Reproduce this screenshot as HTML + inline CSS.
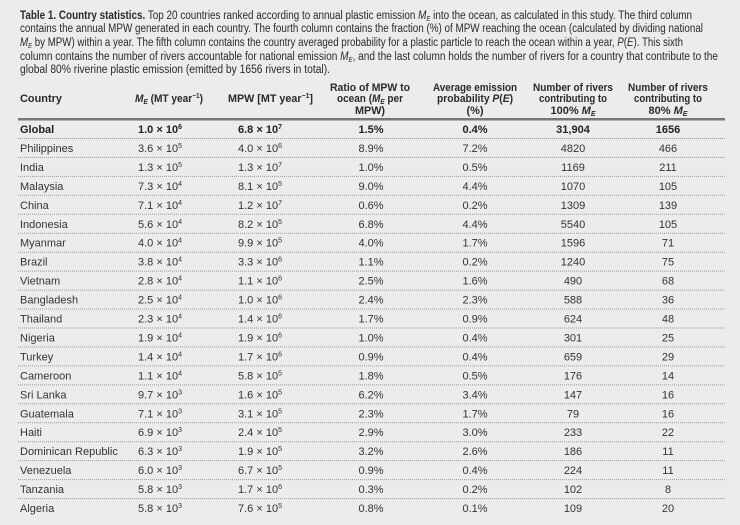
<!DOCTYPE html>
<html><head><meta charset="utf-8"><style>
html,body{margin:0;padding:0;background:#ececec;}
svg{display:block;}
text{font-family:"Liberation Sans Narrow","Liberation Sans",sans-serif;}
.cap{font-size:11.5px;fill:#2a2a2a;}
.h{font-size:11px;font-weight:bold;fill:#2a2a2a;}
.d{font-size:11px;fill:#333;}
.g{font-size:11px;font-weight:bold;fill:#222;}
</style></head><body>
<svg width="740" height="525" viewBox="0 0 740 525" xmlns="http://www.w3.org/2000/svg">
<rect width="740" height="525" fill="#ececec"/>
<text class="cap" x="20" y="19" textLength="672" lengthAdjust="spacingAndGlyphs"><tspan font-weight="bold">Table 1. Country statistics.</tspan> Top 20 countries ranked according to annual plastic emission <tspan font-style="italic">M<tspan font-size="7" dy="2">E</tspan></tspan><tspan dy="-2"> into the ocean, as calculated in this study. The third column</tspan></text>
<text class="cap" x="20" y="32" textLength="683" lengthAdjust="spacingAndGlyphs">contains the annual MPW generated in each country. The fourth column contains the fraction (%) of MPW reaching the ocean (calculated by dividing national</text>
<text class="cap" x="20" y="46" textLength="663" lengthAdjust="spacingAndGlyphs"><tspan font-style="italic">M<tspan font-size="7" dy="2">E</tspan></tspan><tspan dy="-2"> by MPW) within a year. The fifth column contains the country averaged probability for a plastic particle to reach the ocean within a year, </tspan><tspan font-style="italic">P</tspan>(<tspan font-style="italic">E</tspan>). This sixth</text>
<text class="cap" x="20" y="60" textLength="698" lengthAdjust="spacingAndGlyphs">column contains the number of rivers accountable for national emission <tspan font-style="italic">M<tspan font-size="7" dy="2">E</tspan></tspan><tspan dy="-2">, and the last column holds the number of rivers for a country that contribute to the</tspan></text>
<text class="cap" x="20" y="73" textLength="310" lengthAdjust="spacingAndGlyphs">global 80% riverine plastic emission (emitted by 1656 rivers in total).</text>

<g class="h">
<text x="20" y="102" textLength="42" lengthAdjust="spacingAndGlyphs">Country</text>
<text x="135" y="102" textLength="68" lengthAdjust="spacingAndGlyphs"><tspan font-style="italic">M<tspan font-size="7" dy="2">E</tspan></tspan><tspan dy="-2"> (MT year</tspan><tspan font-size="7" dy="-4">−1</tspan><tspan dy="4">)</tspan></text>
<text x="228" y="102" textLength="85" lengthAdjust="spacingAndGlyphs">MPW [MT year<tspan font-size="7" dy="-4">−1</tspan><tspan dy="4">]</tspan></text>
<text x="330" y="91" textLength="80" lengthAdjust="spacingAndGlyphs">Ratio of MPW to</text>
<text x="337" y="102" textLength="66" lengthAdjust="spacingAndGlyphs">ocean (<tspan font-style="italic">M<tspan font-size="7" dy="2">E</tspan></tspan><tspan dy="-2"> per</tspan></text>
<text x="370" y="114" text-anchor="middle" textLength="30" lengthAdjust="spacingAndGlyphs">MPW)</text>
<text x="433" y="91" textLength="84" lengthAdjust="spacingAndGlyphs">Average emission</text>
<text x="437" y="102" textLength="76" lengthAdjust="spacingAndGlyphs">probability <tspan font-style="italic">P</tspan>(<tspan font-style="italic">E</tspan>)</text>
<text x="475" y="114" text-anchor="middle">(%)</text>
<text x="533" y="91" textLength="80" lengthAdjust="spacingAndGlyphs">Number of rivers</text>
<text x="539" y="102" textLength="68" lengthAdjust="spacingAndGlyphs">contributing to</text>
<text x="573" y="114" text-anchor="middle">100% <tspan font-style="italic">M<tspan font-size="7" dy="2">E</tspan></tspan></text>
<text x="628" y="91" textLength="80" lengthAdjust="spacingAndGlyphs">Number of rivers</text>
<text x="634" y="102" textLength="68" lengthAdjust="spacingAndGlyphs">contributing to</text>
<text x="668" y="114" text-anchor="middle">80% <tspan font-style="italic">M<tspan font-size="7" dy="2">E</tspan></tspan></text>
</g>
<rect x="18" y="118" width="707" height="2.5" fill="#777"/>
<g id="rows"></g>
</svg>
<script>
var rows=[
["Global","1.0","6","6.8","7","1.5%","0.4%","31,904","1656"],
["Philippines","3.6","5","4.0","6","8.9%","7.2%","4820","466"],
["India","1.3","5","1.3","7","1.0%","0.5%","1169","211"],
["Malaysia","7.3","4","8.1","5","9.0%","4.4%","1070","105"],
["China","7.1","4","1.2","7","0.6%","0.2%","1309","139"],
["Indonesia","5.6","4","8.2","5","6.8%","4.4%","5540","105"],
["Myanmar","4.0","4","9.9","5","4.0%","1.7%","1596","71"],
["Brazil","3.8","4","3.3","6","1.1%","0.2%","1240","75"],
["Vietnam","2.8","4","1.1","6","2.5%","1.6%","490","68"],
["Bangladesh","2.5","4","1.0","6","2.4%","2.3%","588","36"],
["Thailand","2.3","4","1.4","6","1.7%","0.9%","624","48"],
["Nigeria","1.9","4","1.9","6","1.0%","0.4%","301","25"],
["Turkey","1.4","4","1.7","6","0.9%","0.4%","659","29"],
["Cameroon","1.1","4","5.8","5","1.8%","0.5%","176","14"],
["Sri Lanka","9.7","3","1.6","5","6.2%","3.4%","147","16"],
["Guatemala","7.1","3","3.1","5","2.3%","1.7%","79","16"],
["Haiti","6.9","3","2.4","5","2.9%","3.0%","233","22"],
["Dominican Republic","6.3","3","1.9","5","3.2%","2.6%","186","11"],
["Venezuela","6.0","3","6.7","5","0.9%","0.4%","224","11"],
["Tanzania","5.8","3","1.7","6","0.3%","0.2%","102","8"],
["Algeria","5.8","3","7.6","5","0.8%","0.1%","109","20"]];
var g=document.getElementById("rows"),h="";
rows.forEach(function(r,i){
 var c=129+i*18.95,y=(c+4).toFixed(1),cl=i==0?"g":"d";
 h+='<text class="'+cl+'" x="20" y="'+y+'">'+r[0]+'</text>';
 h+='<text class="'+cl+'" x="138" y="'+y+'">'+r[1]+' × 10<tspan font-size="7" dy="-4">'+r[2]+'</tspan></text>';
 h+='<text class="'+cl+'" x="238" y="'+y+'">'+r[3]+' × 10<tspan font-size="7" dy="-4">'+r[4]+'</tspan></text>';
 h+='<text class="'+cl+'" x="371" y="'+y+'" text-anchor="middle">'+r[5]+'</text>';
 h+='<text class="'+cl+'" x="475" y="'+y+'" text-anchor="middle">'+r[6]+'</text>';
 h+='<text class="'+cl+'" x="573" y="'+y+'" text-anchor="middle">'+r[7]+'</text>';
 h+='<text class="'+cl+'" x="668" y="'+y+'" text-anchor="middle">'+r[8]+'</text>';
 if(i<20){var ly=(c+9.5).toFixed(1);h+='<line x1="18" x2="725" y1="'+ly+'" y2="'+ly+'" stroke="#999" stroke-width="1" stroke-dasharray="1,1"/>';}
});
g.innerHTML=h;
</script>
</body></html>
